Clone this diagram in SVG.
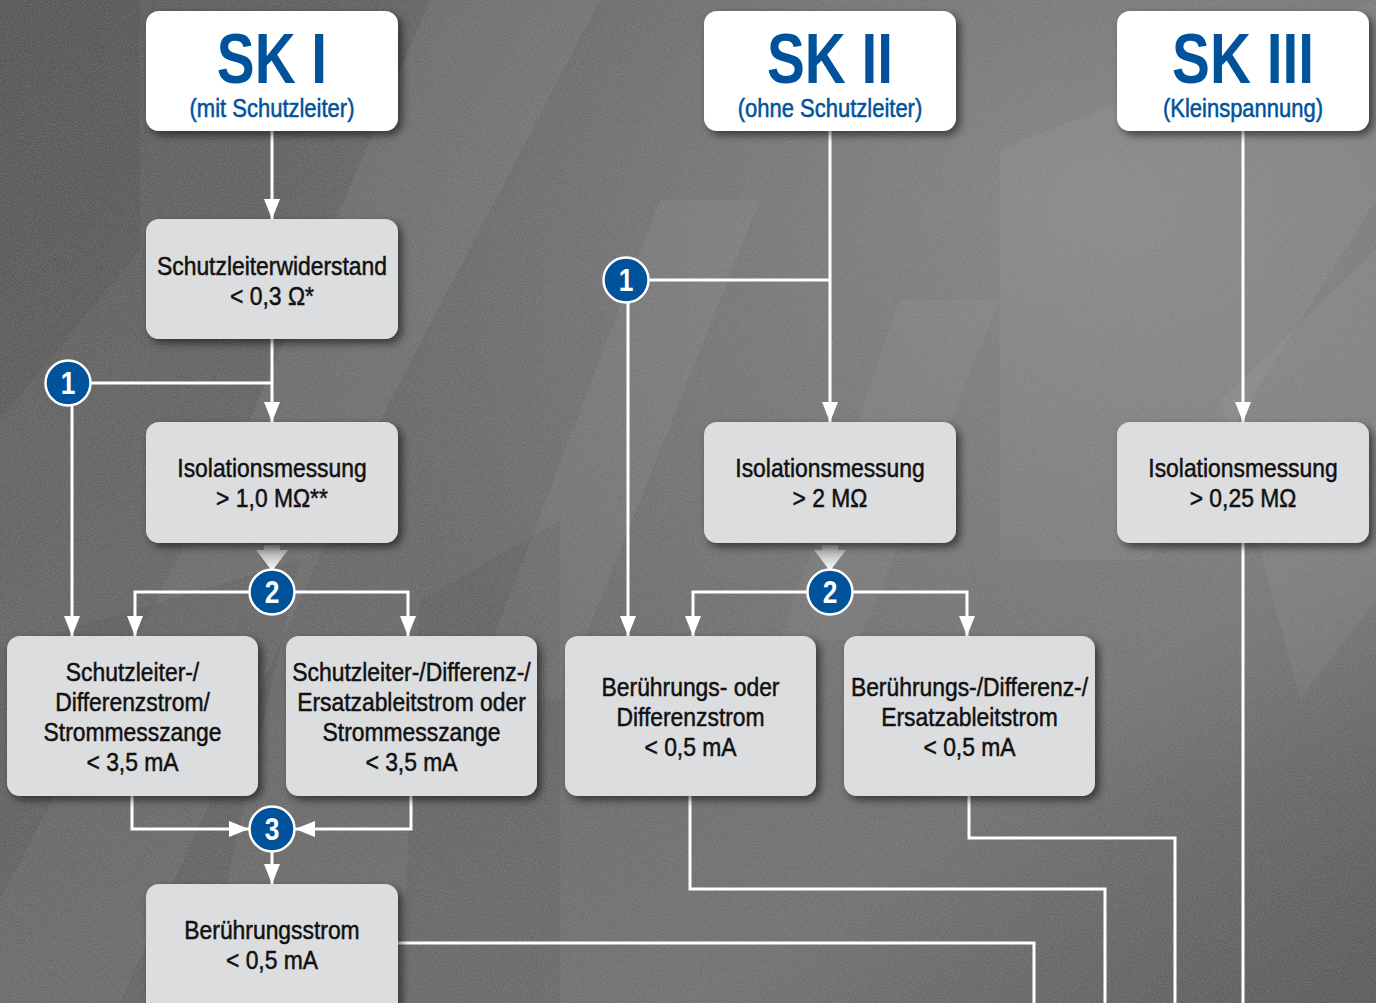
<svg xmlns="http://www.w3.org/2000/svg" width="1376" height="1003" viewBox="0 0 1376 1003">
<defs>
<linearGradient id="bg" x1="0" y1="0" x2="1" y2="1">
<stop offset="0" stop-color="#5a5a5a"/>
<stop offset="0.45" stop-color="#686868"/>
<stop offset="0.75" stop-color="#707070"/>
<stop offset="1" stop-color="#585858"/>
</linearGradient>
<radialGradient id="glow" cx="0.8" cy="0.2" r="0.6">
<stop offset="0" stop-color="#969696" stop-opacity="0.6"/>
<stop offset="1" stop-color="#969696" stop-opacity="0"/>
</radialGradient>
<linearGradient id="fade" x1="0" y1="0" x2="0" y2="1">
<stop offset="0" stop-color="#ffffff" stop-opacity="0.25"/>
<stop offset="1" stop-color="#ffffff" stop-opacity="1"/>
</linearGradient>
<filter id="noise" x="0" y="0" width="100%" height="100%">
<feTurbulence type="fractalNoise" baseFrequency="0.9" numOctaves="2" seed="3"/>
<feColorMatrix type="matrix" values="0 0 0 0 0.5  0 0 0 0 0.5  0 0 0 0 0.5  0 0 0 1.2 -0.35"/>
</filter>
<filter id="shadow" x="-10%" y="-10%" width="125%" height="130%">
<feDropShadow dx="4" dy="4" stdDeviation="4" flood-color="#000" flood-opacity="0.55"/>
</filter>
<marker id="arr" markerUnits="userSpaceOnUse" markerWidth="20" markerHeight="18" viewBox="0 0 20 18" refX="20" refY="9" orient="auto">
<path d="M0,1 L20,9 L0,17 z" fill="#ffffff"/>
</marker>
</defs>
<style>
.hdr{fill:#ffffff}
.box{fill:#dcdddf}
.t{font-family:"Liberation Sans",Arial,sans-serif;font-size:26px;fill:#111;stroke:#111;stroke-width:0.5;text-anchor:middle}
.sk{font-family:"Liberation Sans",Arial,sans-serif;font-size:70px;font-weight:bold;fill:#00529b;text-anchor:middle}
.sub{font-family:"Liberation Sans",Arial,sans-serif;font-size:25px;fill:#00529b;stroke:#00529b;stroke-width:0.5;text-anchor:middle}
.num{font-family:"Liberation Sans",Arial,sans-serif;font-size:31px;font-weight:bold;fill:#ffffff;text-anchor:middle}
.c{fill:#00529b;stroke:#ffffff;stroke-width:2.5}
.ln{fill:none;stroke:#ffffff;stroke-width:3}
.la{fill:none;stroke:#ffffff;stroke-width:3;marker-end:url(#arr)}
</style>
<!-- background -->
<rect width="1376" height="1003" fill="url(#bg)"/>
<rect width="1376" height="1003" fill="url(#glow)"/>
<g fill="#ffffff">
<polygon points="430,0 600,0 380,420 250,420" opacity="0.06"/>
<polygon points="250,420 380,420 120,1003 0,1003 0,900" opacity="0.05"/>
<polygon points="660,200 760,200 560,700 470,700" opacity="0.05"/>
<polygon points="1000,150 1376,0 1376,200 1150,560 1000,560" opacity="0.05"/>
<polygon points="1220,400 1376,250 1376,600 1300,700" opacity="0.05"/>
<polygon points="900,300 1000,300 860,640 780,640" opacity="0.04"/>
</g>
<g fill="#000000">
<polygon points="0,0 140,0 140,250 0,420" opacity="0.06"/>
<polygon points="0,650 300,560 200,1003 0,1003" opacity="0.06"/>
<polygon points="420,600 560,520 560,1003 400,1003" opacity="0.05"/>
</g>
<rect width="1376" height="1003" filter="url(#noise)" opacity="0.4"/>

<!-- connectors -->
<g id="connectors">
<path class="la" d="M272,131 V219"/>
<path class="la" d="M272,339 V422"/>
<path class="ln" d="M272,383 H91"/>
<path class="la" d="M72,406 V636"/>
<polygon points="264,545 280,545 280,550 288,550 272,571 256,550 264,550" fill="url(#fade)"/>
<path class="la" d="M249,592 H135 V636"/>
<path class="la" d="M295,592 H408 V636"/>
<path class="la" d="M132,796 V829 H249"/>
<path class="la" d="M411,796 V829 H295"/>
<path class="la" d="M272,852 V884"/>
<path class="ln" d="M398,943 H1034 V1003"/>
<path class="la" d="M830,131 V422"/>
<path class="ln" d="M830,280 H649"/>
<path class="la" d="M628,303 V636"/>
<polygon points="822,545 838,545 838,550 846,550 830,571 814,550 822,550" fill="url(#fade)"/>
<path class="la" d="M807,592 H693 V636"/>
<path class="la" d="M853,592 H967 V636"/>
<path class="ln" d="M690,796 V889 H1105 V1003"/>
<path class="ln" d="M969,796 V838 H1175 V1003"/>
<path class="la" d="M1243,131 V422"/>
<path class="ln" d="M1243,543 V1003"/>
</g>

<!-- nodes -->
<g id="sk1">
<rect class="hdr" x="146" y="11" width="252" height="120" rx="13" filter="url(#shadow)"/>
<g transform="translate(272 0) scale(0.81 1)"><text class="sk" x="0" y="83">SK I</text></g>
<g transform="translate(272 0) scale(0.88 1)"><text class="sub" x="0" y="117">(mit Schutzleiter)</text></g>
</g>
<g id="sk2">
<rect class="hdr" x="704" y="11" width="252" height="120" rx="13" filter="url(#shadow)"/>
<g transform="translate(830 0) scale(0.81 1)"><text class="sk" x="0" y="83">SK II</text></g>
<g transform="translate(830 0) scale(0.88 1)"><text class="sub" x="0" y="117">(ohne Schutzleiter)</text></g>
</g>
<g id="sk3">
<rect class="hdr" x="1117" y="11" width="252" height="120" rx="13" filter="url(#shadow)"/>
<g transform="translate(1243 0) scale(0.81 1)"><text class="sk" x="0" y="83">SK III</text></g>
<g transform="translate(1243 0) scale(0.88 1)"><text class="sub" x="0" y="117">(Kleinspannung)</text></g>
</g>
<g id="schutzleiterwiderstand">
<rect class="box" x="146" y="219" width="252" height="120" rx="13" filter="url(#shadow)"/>
<g transform="translate(272 0) scale(0.88 1)">
<text class="t" x="0" y="275">Schutzleiterwiderstand</text>
<text class="t" x="0" y="305">&lt; 0,3 Ω*</text>
</g>
</g>
<g id="iso1">
<rect class="box" x="146" y="422" width="252" height="121" rx="13" filter="url(#shadow)"/>
<g transform="translate(272 0) scale(0.88 1)">
<text class="t" x="0" y="477">Isolationsmessung</text>
<text class="t" x="0" y="507">&gt; 1,0 MΩ**</text>
</g>
</g>
<g id="iso2">
<rect class="box" x="704" y="422" width="252" height="121" rx="13" filter="url(#shadow)"/>
<g transform="translate(830 0) scale(0.88 1)">
<text class="t" x="0" y="477">Isolationsmessung</text>
<text class="t" x="0" y="507">&gt; 2 MΩ</text>
</g>
</g>
<g id="iso3">
<rect class="box" x="1117" y="422" width="252" height="121" rx="13" filter="url(#shadow)"/>
<g transform="translate(1243 0) scale(0.88 1)">
<text class="t" x="0" y="477">Isolationsmessung</text>
<text class="t" x="0" y="507">&gt; 0,25 MΩ</text>
</g>
</g>
<g id="b1">
<rect class="box" x="7" y="636" width="251" height="160" rx="13" filter="url(#shadow)"/>
<g transform="translate(132.5 0) scale(0.88 1)">
<text class="t" x="0" y="681">Schutzleiter-/</text>
<text class="t" x="0" y="711">Differenzstrom/</text>
<text class="t" x="0" y="741">Strommesszange</text>
<text class="t" x="0" y="771">&lt; 3,5 mA</text>
</g>
</g>
<g id="b2">
<rect class="box" x="286" y="636" width="251" height="160" rx="13" filter="url(#shadow)"/>
<g transform="translate(411.5 0) scale(0.88 1)">
<text class="t" x="0" y="681">Schutzleiter-/Differenz-/</text>
<text class="t" x="0" y="711">Ersatzableitstrom oder</text>
<text class="t" x="0" y="741">Strommesszange</text>
<text class="t" x="0" y="771">&lt; 3,5 mA</text>
</g>
</g>
<g id="b3">
<rect class="box" x="565" y="636" width="251" height="160" rx="13" filter="url(#shadow)"/>
<g transform="translate(690.5 0) scale(0.88 1)">
<text class="t" x="0" y="696">Berührungs- oder</text>
<text class="t" x="0" y="726">Differenzstrom</text>
<text class="t" x="0" y="756">&lt; 0,5 mA</text>
</g>
</g>
<g id="b4">
<rect class="box" x="844" y="636" width="251" height="160" rx="13" filter="url(#shadow)"/>
<g transform="translate(969.5 0) scale(0.88 1)">
<text class="t" x="0" y="696">Berührungs-/Differenz-/</text>
<text class="t" x="0" y="726">Ersatzableitstrom</text>
<text class="t" x="0" y="756">&lt; 0,5 mA</text>
</g>
</g>
<g id="beruehrungsstrom">
<rect class="box" x="146" y="884" width="252" height="140" rx="13" filter="url(#shadow)"/>
<g transform="translate(272 0) scale(0.88 1)">
<text class="t" x="0" y="939">Berührungsstrom</text>
<text class="t" x="0" y="969">&lt; 0,5 mA</text>
</g>
</g>
<g id="c1a"><circle class="c" cx="68" cy="383" r="22.5"/><g transform="translate(68 0) scale(0.85 1)"><text class="num" x="0" y="394">1</text></g></g>
<g id="c2a"><circle class="c" cx="272" cy="592" r="22.5"/><g transform="translate(272 0) scale(0.85 1)"><text class="num" x="0" y="603">2</text></g></g>
<g id="c3a"><circle class="c" cx="272" cy="829" r="22.5"/><g transform="translate(272 0) scale(0.85 1)"><text class="num" x="0" y="840">3</text></g></g>
<g id="c1b"><circle class="c" cx="626" cy="280" r="22.5"/><g transform="translate(626 0) scale(0.85 1)"><text class="num" x="0" y="291">1</text></g></g>
<g id="c2b"><circle class="c" cx="830" cy="592" r="22.5"/><g transform="translate(830 0) scale(0.85 1)"><text class="num" x="0" y="603">2</text></g></g>
</svg>
